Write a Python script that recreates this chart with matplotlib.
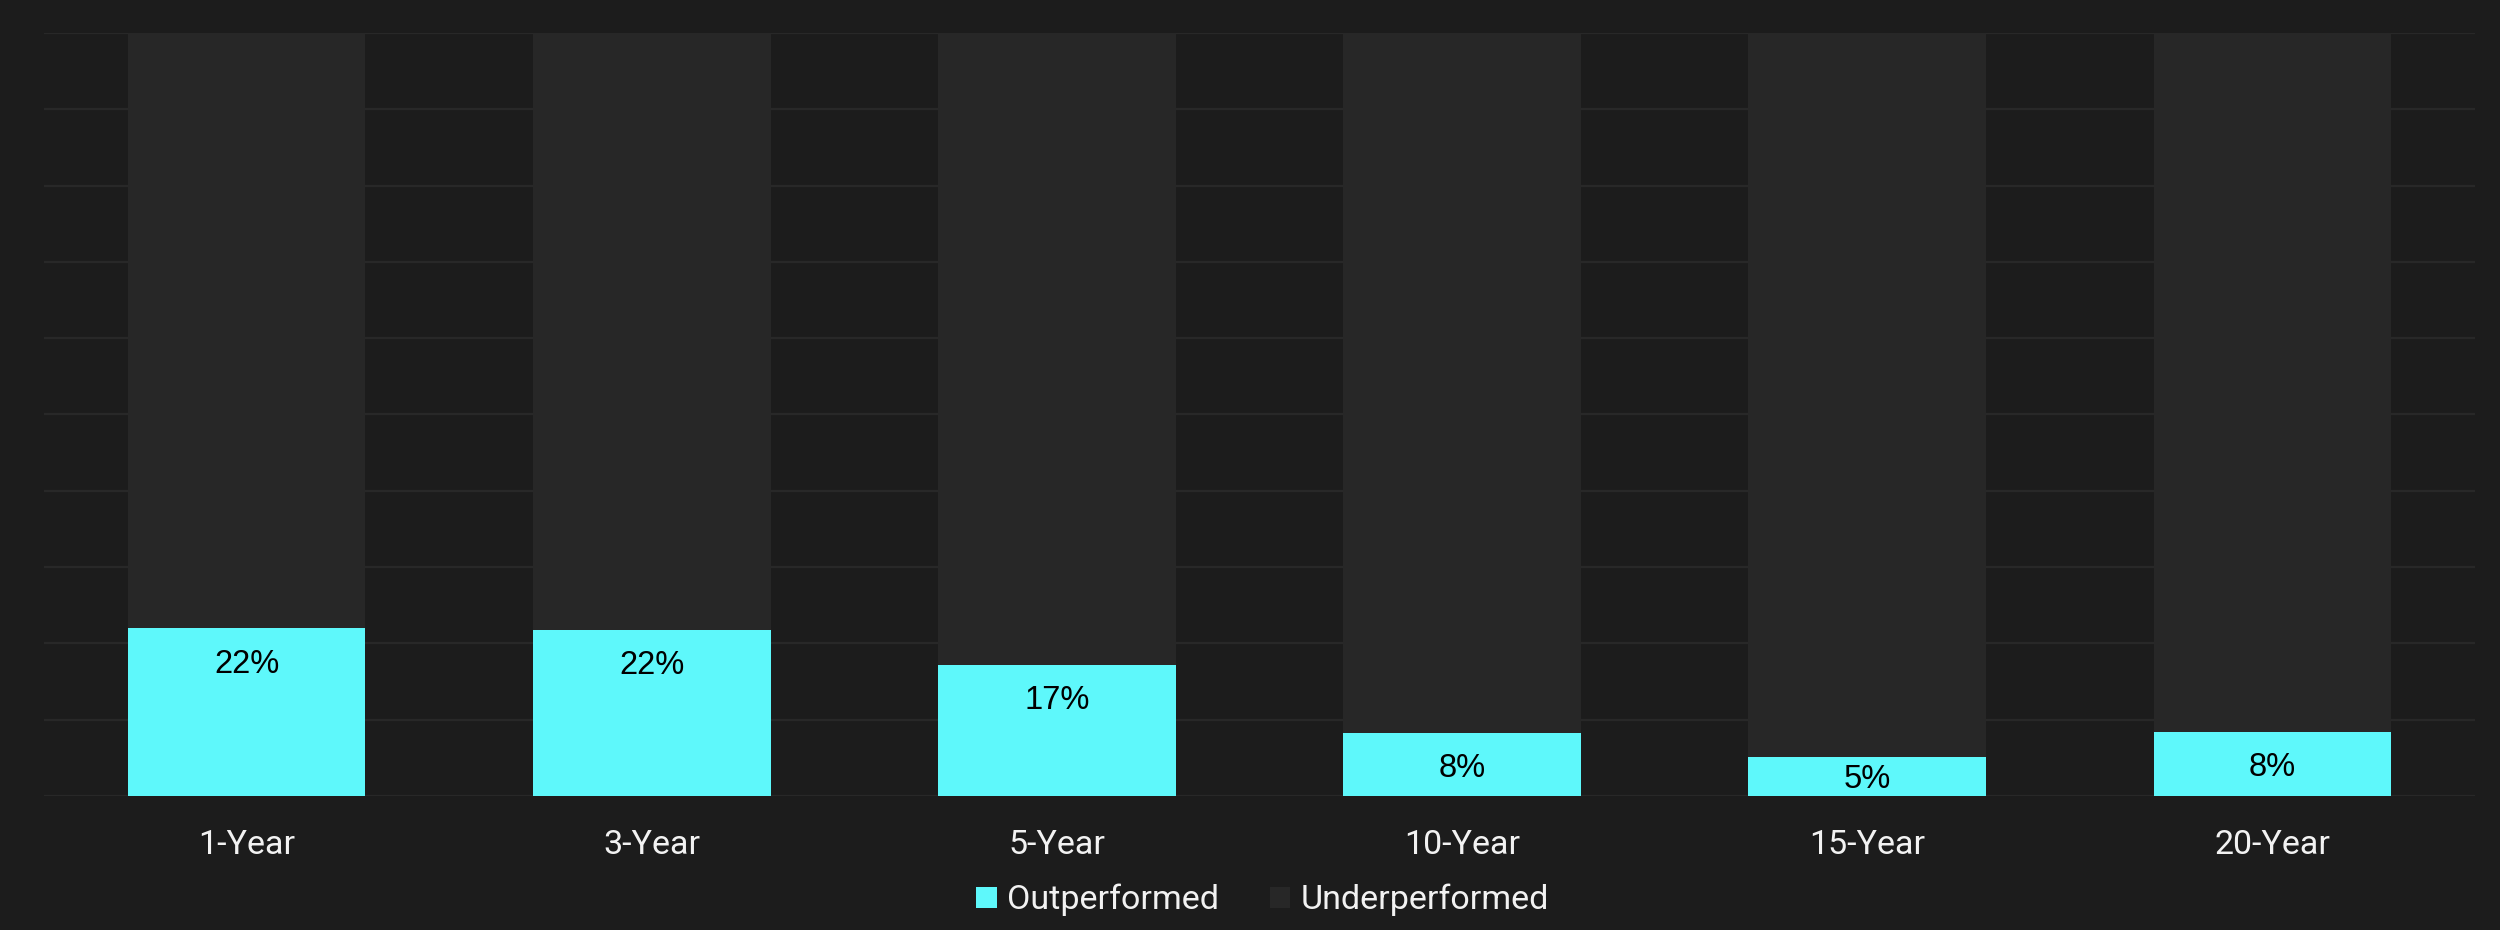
import matplotlib
matplotlib.use("Agg")
import matplotlib.pyplot as plt
from matplotlib.patches import Patch

categories = ["1-Year", "3-Year", "5-Year", "10-Year", "15-Year", "20-Year"]
outperformed = [22.0, 21.8, 17.2, 8.3, 5.1, 8.4]
labels = ["22%", "22%", "17%", "8%", "5%", "8%"]
total = [100, 100, 100, 100, 100, 100]
underperformed = [t - o for t, o in zip(total, outperformed)]

BG = "#1c1c1c"
CYAN = "#5ef8fb"
DARK = "#272727"
GRID = "#282828"
TXT = "#f2f2f2"

fig = plt.figure(figsize=(25, 9.3), dpi=100, facecolor=BG)
ax = fig.add_axes([44/2500, 1-796/930, (2475-44)/2500, (796-33)/930])
ax.set_facecolor(BG)

x = list(range(len(categories)))
w = 0.587
ax.bar(x, outperformed, width=w, color=CYAN, zorder=3, label="Outperformed")
ax.bar(x, underperformed, width=w, bottom=outperformed, color=DARK, zorder=3,
       label="Underperformed")

ax.set_xlim(-0.5, len(categories) - 0.5)
ax.set_ylim(0, 100)
ax.set_yticks(range(0, 101, 10))
ax.yaxis.grid(True, color=GRID, linewidth=1.6, zorder=0)
ax.set_axisbelow(True)
ax.tick_params(axis="y", left=False, labelleft=False)
ax.tick_params(axis="x", length=0, pad=24, colors=TXT, labelsize=24.5)
ax.set_xticks(x)
ax.set_xticklabels(categories, family="Roboto", color=TXT)
for s in ax.spines.values():
    s.set_visible(False)

# data labels inside bars
fig.canvas.draw()
for xi, v, lab in zip(x, outperformed, labels):
    y_top = ax.transData.transform((xi, v))[1]
    y_0 = ax.transData.transform((xi, 0))[1]
    h = y_top - y_0
    off = 36 if h > 55 else h / 2 + 2.5
    ax.annotate(lab, xy=(xi, v), xytext=(0, -off), textcoords="offset pixels",
                ha="center", va="center", fontsize=23.5, color="black",
                family="Liberation Sans", zorder=5)

handles = [Patch(facecolor=CYAN, label="Outperformed"),
           Patch(facecolor=DARK, label="Underperformed")]
leg = fig.legend(handles=handles, loc="center", bbox_to_anchor=(0.505, 0.032),
                 ncol=2, frameon=False, handlelength=0.6,
                 handleheight=0.6, handletextpad=0.3, columnspacing=1.5,
                 borderpad=0, prop={"family": "Roboto", "size": 24.5})
for t in leg.get_texts():
    t.set_color(TXT)

fig.savefig("out.png", dpi=100, facecolor=BG)
